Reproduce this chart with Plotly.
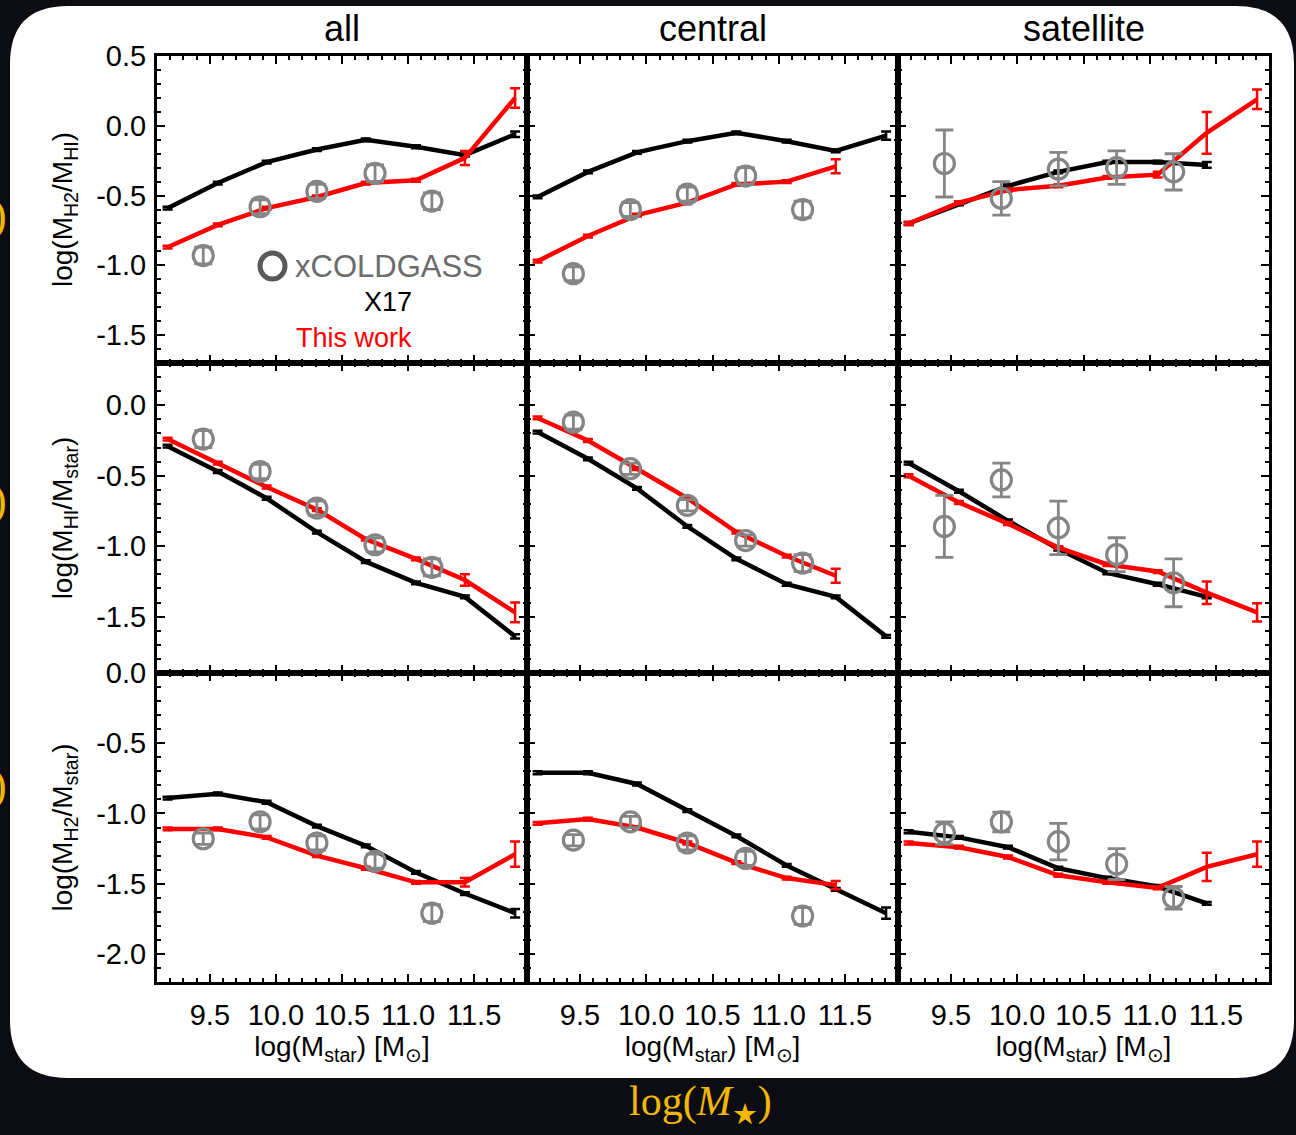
import plotly.graph_objects as go
from plotly.subplots import make_subplots

# ---------------- data ----------------
columns = ["all", "central", "satellite"]
x_ticks = [9.5, 10.0, 10.5, 11.0, 11.5]
x_ticktext = ["9.5", "10.0", "10.5", "11.0", "11.5"]
y_ticks_row1 = [0.5, 0.0, -0.5, -1.0, -1.5]
y_ticktext_row1 = ["0.5", "0.0", "-0.5", "-1.0", "-1.5"]
y_ticks_row2 = [0.0, -0.5, -1.0, -1.5]
y_ticktext_row2 = ["0.0", "-0.5", "-1.0", "-1.5"]
y_ticks_row3 = [0.0, -0.5, -1.0, -1.5, -2.0]
y_ticktext_row3 = ["0.0", "-0.5", "-1.0", "-1.5", "-2.0"]
x_model = [9.18, 9.56, 9.93, 10.31, 10.68, 11.06, 11.43, 11.81]
x_obs = [9.45, 9.88, 10.31, 10.75, 11.18]

# Row 1: log(MH2/MHI)
h2hi_all_x17 = [-0.59, -0.41, -0.26, -0.17, -0.10, -0.15, -0.21, -0.06]
h2hi_all_x17_err = [0.01, 0.01, 0.01, 0.01, 0.01, 0.01, 0.01, 0.02]
h2hi_all_tw = [-0.87, -0.71, -0.59, -0.51, -0.41, -0.39, -0.23, 0.20]
h2hi_all_tw_err = [0.01, 0.01, 0.01, 0.01, 0.01, 0.01, 0.05, 0.07]
h2hi_all_obs = [-0.93, -0.58, -0.47, -0.34, -0.54]
h2hi_all_obs_err = [0.06, 0.05, 0.05, 0.06, 0.06]

h2hi_cen_x17 = [-0.51, -0.33, -0.19, -0.11, -0.05, -0.11, -0.18, -0.07]
h2hi_cen_x17_err = [0.01, 0.01, 0.01, 0.01, 0.01, 0.01, 0.01, 0.03]
h2hi_cen_tw = [-0.97, -0.79, -0.64, -0.55, -0.42, -0.40, -0.29]
h2hi_cen_tw_err = [0.01, 0.01, 0.01, 0.01, 0.01, 0.01, 0.05]
h2hi_cen_obs = [-1.06, -0.60, -0.49, -0.36, -0.60]
h2hi_cen_obs_err = [0.05, 0.05, 0.05, 0.06, 0.06]

h2hi_sat_x17 = [-0.70, -0.56, -0.43, -0.33, -0.26, -0.26, -0.28]
h2hi_sat_x17_err = [0.01, 0.01, 0.01, 0.01, 0.01, 0.01, 0.02]
h2hi_sat_tw = [-0.70, -0.55, -0.46, -0.43, -0.37, -0.35, -0.05, 0.19]
h2hi_sat_tw_err = [0.01, 0.01, 0.01, 0.01, 0.01, 0.02, 0.15, 0.07]
h2hi_sat_obs = [-0.27, -0.52, -0.31, -0.30, -0.33]
h2hi_sat_obs_err = [0.24, 0.12, 0.12, 0.12, 0.13]

# Row 2: log(MHI/Mstar)
hi_all_x17 = [-0.29, -0.47, -0.66, -0.90, -1.11, -1.26, -1.36, -1.64]
hi_all_x17_err = [0.01, 0.01, 0.01, 0.01, 0.01, 0.01, 0.01, 0.015]
hi_all_tw = [-0.24, -0.41, -0.58, -0.74, -0.95, -1.09, -1.24, -1.47]
hi_all_tw_err = [0.01, 0.01, 0.01, 0.01, 0.01, 0.01, 0.04, 0.07]
hi_all_obs = [-0.24, -0.47, -0.73, -0.99, -1.15]
hi_all_obs_err = [0.06, 0.05, 0.05, 0.05, 0.06]

hi_cen_x17 = [-0.19, -0.38, -0.59, -0.86, -1.09, -1.27, -1.36, -1.64]
hi_cen_x17_err = [0.01, 0.01, 0.01, 0.01, 0.01, 0.01, 0.01, 0.01]
hi_cen_tw = [-0.09, -0.25, -0.45, -0.66, -0.90, -1.07, -1.21]
hi_cen_tw_err = [0.01, 0.01, 0.01, 0.01, 0.01, 0.01, 0.05]
hi_cen_obs = [-0.12, -0.45, -0.71, -0.96, -1.12]
hi_cen_obs_err = [0.05, 0.04, 0.04, 0.04, 0.06]

hi_sat_x17 = [-0.41, -0.61, -0.82, -1.02, -1.19, -1.27, -1.36]
hi_sat_x17_err = [0.01, 0.01, 0.01, 0.01, 0.01, 0.01, 0.01]
hi_sat_tw = [-0.50, -0.69, -0.84, -1.01, -1.13, -1.18, -1.33, -1.47]
hi_sat_tw_err = [0.01, 0.01, 0.01, 0.01, 0.01, 0.01, 0.08, 0.065]
hi_sat_obs = [-0.86, -0.53, -0.87, -1.06, -1.26]
hi_sat_obs_err = [0.22, 0.12, 0.19, 0.12, 0.17]

# Row 3: log(MH2/Mstar)
h2_all_x17 = [-0.89, -0.86, -0.92, -1.09, -1.23, -1.42, -1.57, -1.71]
h2_all_x17_err = [0.01, 0.01, 0.01, 0.01, 0.01, 0.01, 0.01, 0.03]
h2_all_tw = [-1.11, -1.11, -1.17, -1.30, -1.39, -1.49, -1.49, -1.29]
h2_all_tw_err = [0.01, 0.01, 0.01, 0.01, 0.01, 0.01, 0.03, 0.09]
h2_all_obs = [-1.18, -1.06, -1.21, -1.34, -1.71]
h2_all_obs_err = [0.04, 0.05, 0.05, 0.05, 0.06]

h2_cen_x17 = [-0.71, -0.71, -0.79, -0.98, -1.16, -1.37, -1.54, -1.71]
h2_cen_x17_err = [0.01, 0.01, 0.01, 0.01, 0.01, 0.01, 0.01, 0.04]
h2_cen_tw = [-1.07, -1.04, -1.10, -1.21, -1.35, -1.46, -1.51]
h2_cen_tw_err = [0.01, 0.01, 0.01, 0.01, 0.01, 0.01, 0.03]
h2_cen_obs = [-1.19, -1.06, -1.21, -1.32, -1.73]
h2_cen_obs_err = [0.04, 0.04, 0.05, 0.05, 0.06]

h2_sat_x17 = [-1.13, -1.17, -1.24, -1.39, -1.46, -1.52, -1.64]
h2_sat_x17_err = [0.01, 0.01, 0.01, 0.01, 0.01, 0.01, 0.01]
h2_sat_tw = [-1.21, -1.24, -1.31, -1.44, -1.49, -1.53, -1.38, -1.29]
h2_sat_tw_err = [0.01, 0.01, 0.01, 0.01, 0.01, 0.01, 0.10, 0.09]
h2_sat_obs = [-1.14, -1.06, -1.20, -1.36, -1.60]
h2_sat_obs_err = [0.08, 0.07, 0.13, 0.11, 0.08]

y_titles = ["log(M<sub>H2</sub>/M<sub>HI</sub>)",
            "log(M<sub>HI</sub>/M<sub>star</sub>)",
            "log(M<sub>H2</sub>/M<sub>star</sub>)"]
y_ranges = [[-1.7, 0.5005], [-1.9, 0.3], [-2.2, 0.0005]]
y_tickvals = [y_ticks_row1, y_ticks_row2, y_ticks_row3]
y_ticktexts = [y_ticktext_row1, y_ticktext_row2, y_ticktext_row3]
x_range = [9.1, 11.9]

panels = [
    [(h2hi_all_x17, h2hi_all_x17_err, h2hi_all_tw, h2hi_all_tw_err, h2hi_all_obs, h2hi_all_obs_err),
     (h2hi_cen_x17, h2hi_cen_x17_err, h2hi_cen_tw, h2hi_cen_tw_err, h2hi_cen_obs, h2hi_cen_obs_err),
     (h2hi_sat_x17, h2hi_sat_x17_err, h2hi_sat_tw, h2hi_sat_tw_err, h2hi_sat_obs, h2hi_sat_obs_err)],
    [(hi_all_x17, hi_all_x17_err, hi_all_tw, hi_all_tw_err, hi_all_obs, hi_all_obs_err),
     (hi_cen_x17, hi_cen_x17_err, hi_cen_tw, hi_cen_tw_err, hi_cen_obs, hi_cen_obs_err),
     (hi_sat_x17, hi_sat_x17_err, hi_sat_tw, hi_sat_tw_err, hi_sat_obs, hi_sat_obs_err)],
    [(h2_all_x17, h2_all_x17_err, h2_all_tw, h2_all_tw_err, h2_all_obs, h2_all_obs_err),
     (h2_cen_x17, h2_cen_x17_err, h2_cen_tw, h2_cen_tw_err, h2_cen_obs, h2_cen_obs_err),
     (h2_sat_x17, h2_sat_x17_err, h2_sat_tw, h2_sat_tw_err, h2_sat_obs, h2_sat_obs_err)],
]

# ---------------- figure ----------------
W, H = 1296, 1135
FONT = "Liberation Sans, Arial, Helvetica, sans-serif"
RED = "#ff0000"
GRAY = "#858585"

fig = make_subplots(rows=3, cols=3, horizontal_spacing=0, vertical_spacing=0)

for r in range(3):
    for c in range(3):
        x17, x17e, tw, twe, obs, obse = panels[r][c]
        fig.add_trace(go.Scatter(
            x=x_model[:len(x17)], y=x17, mode="lines",
            line=dict(color="black", width=4.5),
            error_y=dict(type="data", array=x17e, color="black", thickness=2.5, width=5),
            name="X17", showlegend=False), row=r + 1, col=c + 1)
        fig.add_trace(go.Scatter(
            x=x_model[:len(tw)], y=tw, mode="lines",
            line=dict(color=RED, width=4.5),
            error_y=dict(type="data", array=twe, color=RED, thickness=2.5, width=5),
            name="This work", showlegend=False), row=r + 1, col=c + 1)
        fig.add_trace(go.Scatter(
            x=x_obs, y=obs, mode="markers",
            marker=dict(symbol="circle-open", size=20, color=GRAY, line=dict(width=3.2, color=GRAY)),
            error_y=dict(type="data", array=obse, color=GRAY, thickness=2.8, width=9),
            name="xCOLDGASS", showlegend=False), row=r + 1, col=c + 1)

px_x = lambda p: p / W
px_y = lambda p: 1 - p / H
x_dom = [[px_x(157), px_x(527)], [px_x(527), px_x(898)], [px_x(898), px_x(1269)]]
y_dom = [[px_y(363), px_y(56)], [px_y(673), px_y(363)], [px_y(982), px_y(673)]]

axis_common = dict(
    showline=True, linecolor="black", linewidth=3, mirror="allticks",
    ticks="inside", ticklen=8, tickwidth=2, tickcolor="black",
    showgrid=False, zeroline=False, automargin=False,
    tickfont=dict(family=FONT, size=29, color="black"),
    minor=dict(ticks="inside", ticklen=4, tickwidth=2, tickcolor="black", dtick=0.1, showgrid=False),
)

for r in range(3):
    for c in range(3):
        idx = r * 3 + c + 1
        xa = "xaxis" if idx == 1 else f"xaxis{idx}"
        ya = "yaxis" if idx == 1 else f"yaxis{idx}"
        xcfg = dict(axis_common)
        xcfg.update(domain=x_dom[c], range=x_range, tickmode="array", tickvals=x_ticks,
                    ticktext=x_ticktext, showticklabels=(r == 2), ticklabelstandoff=5)
        xcfg["minor"] = dict(axis_common["minor"], tick0=9.0)
        if r == 2:
            xcfg["title"] = dict(text="log(M<sub>star</sub>) [M<sub>\u2299</sub>]",
                                 font=dict(family=FONT, size=28, color="black"), standoff=2)
        ycfg = dict(axis_common)
        ycfg.update(domain=y_dom[r], range=y_ranges[r], tickmode="array",
                    tickvals=y_tickvals[r], ticktext=y_ticktexts[r],
                    showticklabels=(c == 0), ticklabelstandoff=2)
        ycfg["minor"] = dict(axis_common["minor"], tick0=0.0)
        if c == 0:
            ycfg["title"] = dict(text=y_titles[r], font=dict(family=FONT, size=28, color="black"),
                                 standoff=16)
        fig.layout[xa].update(xcfg)
        fig.layout[ya].update(ycfg)

# rounded white card behind the plots
x0, x1 = px_x(10), px_x(1294)
y0, y1 = px_y(1078), px_y(6)
rx, ry = 58 / W, 58 / H
card = (f"M {x0+rx},{y1} L {x1-rx},{y1} Q {x1},{y1} {x1},{y1-ry} L {x1},{y0+ry} "
        f"Q {x1},{y0} {x1-rx},{y0} L {x0+rx},{y0} Q {x0},{y0} {x0},{y0+ry} "
        f"L {x0},{y1-ry} Q {x0},{y1} {x0+rx},{y1} Z")
shapes = [dict(type="path", xref="paper", yref="paper", path=card,
               fillcolor="white", line=dict(width=0), layer="below")]
# legend ring glyph
shapes.append(dict(type="circle", xref="paper", yref="paper",
                   x0=px_x(260), x1=px_x(285), y0=px_y(279), y1=px_y(253),
                   line=dict(color="#595959", width=5), fillcolor="rgba(0,0,0,0)"))

annotations = []
for c, name in enumerate(columns):
    annotations.append(dict(text=name, xref="paper", yref="paper",
                            x=(x_dom[c][0] + x_dom[c][1]) / 2, y=px_y(28),
                            xanchor="center", yanchor="middle", showarrow=False,
                            font=dict(family=FONT, size=36, color="black")))
annotations += [
    dict(text="xCOLDGASS", xref="paper", yref="paper", x=px_x(293), y=px_y(266),
         xanchor="left", yanchor="middle", showarrow=False,
         font=dict(family=FONT, size=31, color="#6b6b6b")),
    dict(text="X17", xref="paper", yref="paper", x=px_x(414), y=px_y(302),
         xanchor="right", yanchor="middle", showarrow=False,
         font=dict(family=FONT, size=27, color="black")),
    dict(text="This work", xref="paper", yref="paper", x=px_x(414), y=px_y(338),
         xanchor="right", yanchor="middle", showarrow=False,
         font=dict(family=FONT, size=27, color=RED)),
    dict(text="log(<i>M</i><sub>\u2605</sub>)", xref="paper", yref="paper",
         x=px_x(700), y=px_y(1104), xanchor="center", yanchor="middle", showarrow=False,
         font=dict(family="Liberation Serif, Times New Roman, serif", size=42, color="#f2b705")),
]
for py in [215, 500, 785]:
    annotations.append(dict(text=")", xref="paper", yref="paper", x=px_x(9), y=px_y(py),
                            xanchor="right", yanchor="middle", showarrow=False,
                            font=dict(family="Liberation Serif, serif", size=44, color="#f2b705")))

fig.update_layout(
    width=W, height=H,
    margin=dict(l=0, r=0, t=0, b=0, pad=0, autoexpand=False),
    paper_bgcolor="#0b0d12", plot_bgcolor="white",
    showlegend=False,
    shapes=shapes, annotations=annotations,
    font=dict(family=FONT, color="black"),
)

fig.write_html("out.html", config={"displayModeBar": False},
               post_script="document.body.style.margin='0';document.body.style.padding='0';"
                           "document.body.style.overflow='hidden';"
                           "document.documentElement.style.overflow='hidden';")
